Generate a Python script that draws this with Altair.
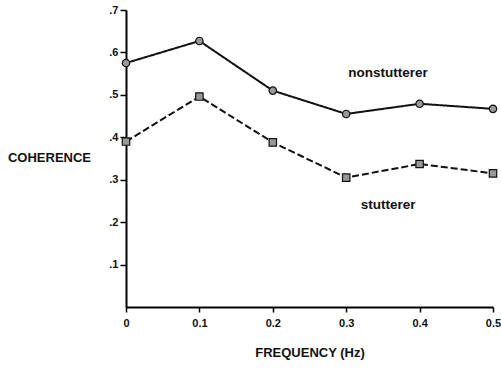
import altair as alt
import pandas as pd

freq = [0.0, 0.1, 0.2, 0.3, 0.4, 0.5]
nonstutterer = [0.575, 0.627, 0.510, 0.455, 0.479, 0.467]
stutterer = [0.390, 0.496, 0.388, 0.305, 0.337, 0.315]

label_text = ["nonstutterer", "stutterer"]
label_x = [0.357, 0.357]
label_y = [0.552, 0.240]

x_ticks = [0.0, 0.1, 0.2, 0.3, 0.4, 0.5]
y_ticks = [0.1, 0.2, 0.3, 0.4, 0.5, 0.6, 0.7]

FONT = "Liberation Sans"

df = pd.DataFrame({
    "freq": freq * 2,
    "coh": nonstutterer + stutterer,
    "group": ["nonstutterer"] * len(freq) + ["stutterer"] * len(freq),
})
lab = pd.DataFrame({"text": label_text, "x": label_x, "y": label_y})

xs = alt.Scale(domain=[0, 0.5], nice=False, zero=False)
ys = alt.Scale(domain=[0, 0.7], nice=False)

xax = alt.Axis(
    values=x_ticks, labelExpr="datum.value == 0 ? '0' : format(datum.value, '.1f')",
    grid=False, domainColor="black", domainWidth=2, tickColor="black", tickWidth=1.5,
    tickSize=5, labelPadding=5, labelFont=FONT, labelFontSize=11, labelFontWeight="bold",
    labelColor="#111", title="FREQUENCY (Hz)", titleFont=FONT, titleFontSize=13,
    titleFontWeight="bold", titleColor="#111", titleY=45, titleBaseline="middle",
    labelFlush=False,
)
yax = alt.Axis(
    values=y_ticks, labelExpr="replace(format(datum.value, '.1f'), '0.', '.')",
    grid=False, domainColor="black", domainWidth=2, tickColor="black", tickWidth=1.5,
    tickSize=6, labelPadding=2, labelFont=FONT, labelFontSize=11, labelFontWeight="bold",
    labelColor="#111", title="COHERENCE", titleAngle=0, titleX=-77, titleY=147,
    titleAlign="center", titleBaseline="middle", titleFont=FONT, titleFontSize=13,
    titleFontWeight="bold", titleColor="#111",
)

base = alt.Chart(df)

lines = base.mark_line(color="#111", strokeWidth=2).encode(
    x=alt.X("freq:Q", scale=xs, axis=xax),
    y=alt.Y("coh:Q", scale=ys, axis=yax),
    strokeDash=alt.StrokeDash(
        "group:N",
        scale=alt.Scale(domain=["nonstutterer", "stutterer"], range=[[1, 0], [7, 3]]),
        legend=None,
    ),
    detail="group:N",
)

points = base.mark_point(filled=True, fill="#999", stroke="#111", strokeWidth=1.2, opacity=1, size=55).encode(
    x=alt.X("freq:Q", scale=xs),
    y=alt.Y("coh:Q", scale=ys),
    shape=alt.Shape(
        "group:N",
        scale=alt.Scale(domain=["nonstutterer", "stutterer"], range=["circle", "square"]),
        legend=None,
    ),
)

labels = alt.Chart(lab).mark_text(font=FONT, fontSize=13.5, fontWeight="bold", color="#111", align="center", baseline="middle").encode(
    x=alt.X("x:Q", scale=xs),
    y=alt.Y("y:Q", scale=ys),
    text="text:N",
)

chart = alt.layer(lines, points, labels).properties(
    width=367, height=297,
    autosize=alt.AutoSizeParams(type="none"),
    padding={"left": 126, "top": 10, "right": 8, "bottom": 64},
    background="white",
).configure_view(stroke=None)

chart.save("out.html", embed_options={"renderer": "svg", "actions": False})
